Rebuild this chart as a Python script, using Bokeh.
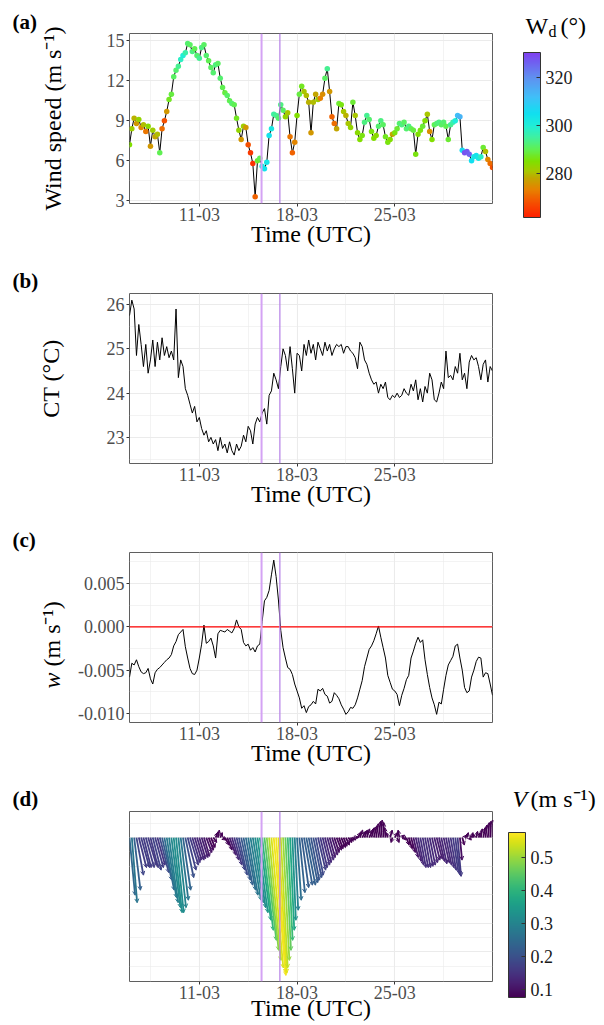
import numpy as np
import pandas as pd
from bokeh.plotting import figure
from bokeh.layouts import column, row
from bokeh.models import (ColumnDataSource, LinearColorMapper, ColorBar, FixedTicker,
                          DatetimeTickFormatter, Span, Label, Range1d, Arrow, OpenHead,
                          NumeralTickFormatter, Title)
from bokeh.transform import transform
from bokeh.palettes import Viridis256
from bokeh.embed import file_html
from bokeh.resources import INLINE

# ---------------- data ----------------
t_start = "2023-03-06 00:00"
t_end = "2023-04-01 00:00"
times = pd.date_range(t_start, t_end, freq="4h")   # 157 samples, 4-hourly

x_major = ["2023-03-11", "2023-03-18", "2023-03-25"]
x_minor = ["2023-03-07 12:00", "2023-03-14 12:00", "2023-03-21 12:00", "2023-03-28 12:00"]
event_lines = ["2023-03-15 11:00", "2023-03-16 18:30"]

# (a) wind speed (m/s)
wind_speed = [
    7.2, 8.4, 9.2, 8.8, 9.1, 8.5,
    8.7, 8.2, 8.6, 7.1, 8.3, 7.8,
    8.0, 6.6, 8.4, 9.0, 9.7, 10.6,
    11.0, 12.3, 12.8, 13.1, 13.6, 13.9,
    14.1, 14.8, 14.7, 14.2, 14.4, 13.9,
    13.7, 14.5, 14.7, 13.9, 13.5, 13.0,
    12.6, 13.2, 13.3, 12.2, 11.5, 11.1,
    10.9, 10.5, 10.3, 10.2, 9.2, 8.3,
    7.6, 8.6, 8.5, 7.2, 6.6, 5.8,
    3.3, 6.0, 6.2, 5.6, 5.4, 5.9,
    7.9, 8.4, 9.5, 9.4, 9.2, 10.2,
    9.8, 9.3, 9.6, 7.8, 6.6, 7.4,
    9.4, 11.0, 11.6, 11.2, 10.9, 10.4,
    8.1, 10.4, 11.0, 10.6, 10.7, 11.0,
    12.2, 12.9, 11.2, 9.3, 8.8, 8.4,
    10.3, 10.2, 9.7, 9.4, 8.8, 8.5,
    10.4, 9.4, 8.1, 7.6, 7.9, 8.9,
    9.4, 9.1, 8.2, 7.7, 7.9, 8.6,
    9.0, 8.7, 7.8, 7.4, 7.6, 8.0,
    8.1, 8.4, 8.8, 8.7, 8.9, 8.4,
    8.6, 8.4, 8.3, 6.5, 8.0, 8.3,
    8.6, 9.0, 9.5, 8.2, 7.6, 8.7,
    8.8, 8.9, 8.7, 8.9, 8.6, 7.6,
    8.7, 8.9, 9.0, 9.4, 9.3, 6.8,
    6.6, 6.7, 6.5, 6.0, 6.3, 6.4,
    6.2, 6.3, 7.0, 6.7, 6.1, 5.8,
    5.5]

# (a) wind direction (degrees)
wind_dir = [
    285, 282, 279, 276, 283, 274,
    280, 272, 284, 276, 282, 278,
    280, 290, 271, 268, 276, 287,
    289, 291, 292, 294, 298, 300,
    296, 292, 291, 293, 290, 292,
    294, 293, 291, 292, 290, 291,
    292, 293, 291, 292, 290, 289,
    291, 290, 292, 290, 287, 283,
    276, 282, 276, 268, 265, 264,
    270, 288, 290, 302, 304, 303,
    304, 302, 295, 294, 292, 293,
    291, 283, 281, 272, 270, 274,
    285, 289, 287, 281, 280, 279,
    276, 280, 278, 282, 273, 275,
    291, 294, 276, 270, 271, 278,
    288, 286, 281, 279, 281, 283,
    288, 281, 284, 285, 286, 293,
    294, 292, 286, 285, 284, 292,
    293, 291, 287, 286, 285, 278,
    286, 288, 292, 293, 291, 292,
    293, 290, 289, 286, 285, 286,
    288, 285, 281, 275, 285, 290,
    292, 293, 291, 292, 290, 288,
    294, 296, 300, 312, 314, 306,
    328, 327, 326, 305, 303, 304,
    302, 298, 288, 280, 274, 271,
    268]

# (b) conservative temperature (deg C)
ct = [
    25.75, 26.1, 25.9, 24.85, 25.55, 25.1,
    24.6, 25.1, 24.45, 24.75, 25.2, 24.6,
    25.15, 24.75, 25.25, 24.85, 25.05, 24.8,
    24.95, 24.75, 25.9, 24.35, 24.75, 24.6,
    24.1, 23.95, 23.75, 23.55, 23.7, 23.35,
    23.45, 23.2, 23.05, 23.15, 22.9, 23.0,
    22.85, 22.95, 22.7, 23.0, 22.75, 22.85,
    22.65, 22.9, 22.7, 22.6, 22.85, 22.7,
    22.8, 23.05, 22.9, 23.25, 23.15, 22.85,
    23.3, 23.45, 23.35, 23.55, 23.65, 23.3,
    23.95, 24.05, 24.45, 24.3, 24.1, 24.6,
    25.0, 24.85, 24.5, 25.05, 24.55, 24.0,
    24.9, 24.85, 24.5, 25.1, 24.85, 25.2,
    24.9, 25.1, 24.75, 25.15, 25.0, 24.85,
    25.15, 24.95, 25.1, 24.85, 25.0, 25.1,
    25.05, 25.1, 24.9, 25.05, 25.05, 24.95,
    24.9, 24.8, 24.55, 25.15, 25.05, 24.75,
    24.65, 24.45, 24.3, 24.2, 24.25, 24.0,
    24.2, 24.1, 24.25, 23.9, 23.85, 23.95,
    23.9, 24.0, 23.9, 23.95, 24.1, 24.0,
    23.95, 24.2, 24.05, 24.3, 23.85, 24.1,
    23.8, 24.15, 24.0, 24.45, 24.3, 23.85,
    23.8, 24.0, 24.25, 24.1, 24.95, 24.35,
    24.4, 24.3, 24.6, 24.45, 24.9, 24.3,
    24.45, 24.1, 24.7, 24.85, 24.75, 24.8,
    24.6, 24.3, 24.65, 24.75, 24.25, 24.6,
    24.5]

# (c) vertical velocity w (mm/s, converted to m/s below)
w_mm_s = [
    -5.8, -4.2, -4.4, -3.8, -4.6, -5.2,
    -5.4, -5.3, -4.8, -6.0, -6.6, -5.3,
    -4.9, -4.7, -4.4, -4.1, -3.8, -3.6,
    -3.2, -2.2, -1.7, -0.9, -0.6, -0.3,
    -2.3, -3.6, -4.8, -5.4, -5.5, -5.0,
    -3.6, -2.0, 0.2, -1.9, -1.7, -1.3,
    -2.2, -3.6, -0.8, -0.4, -0.5, -0.6,
    -0.3, -0.5, -0.7, -0.2, 0.8, 0.0,
    -0.3, -1.8, -2.2, -2.0, -2.7, -2.4,
    -2.9, -2.2, -2.0, 0.6, 3.0, 3.4,
    4.2, 6.0, 7.7, 5.8, 3.1, -0.4,
    -2.4, -3.6, -4.7, -4.9, -5.5, -6.6,
    -7.4, -8.2, -9.4, -9.1, -9.9, -9.2,
    -9.0, -8.6, -8.9, -7.2, -7.4, -7.1,
    -7.8, -8.0, -8.8, -8.6, -7.6, -7.9,
    -8.3, -9.0, -9.5, -10.1, -9.8, -9.3,
    -9.4, -9.0, -8.2, -7.2, -6.2, -4.6,
    -3.6, -2.6, -2.2, -1.6, -0.8, 0.1,
    -1.2, -2.4, -3.6, -5.6, -6.4, -7.2,
    -7.4, -7.8, -9.1, -7.9, -7.1, -6.1,
    -5.6, -3.6, -2.8, -1.9, -1.2, -1.8,
    -1.5, -3.8, -5.5, -7.0, -8.2, -9.0,
    -10.1, -8.7, -8.9, -7.2, -5.6, -4.4,
    -3.9, -3.4, -2.2, -2.0, -3.6, -5.0,
    -7.0, -7.6, -7.4, -5.8, -5.0, -4.0,
    -3.5, -3.6, -5.8, -5.3, -5.4, -6.6,
    -7.9]

# (d) current components (m/s)
u_cur = [
    0.08, 0.076, 0.09, 0.10, 0.11, 0.12,
    0.11, 0.12, 0.12, 0.11, 0.12, 0.12,
    0.11, 0.13, 0.14, 0.14, 0.14, 0.13,
    0.13, 0.12, 0.11, 0.11, 0.11, 0.11,
    0.12, 0.12, 0.12, 0.11, 0.10, 0.10,
    0.09, 0.09, 0.08, 0.08, 0.07, 0.06,
    0.05, 0.03, 0.02, 0.03, 0.05, 0.06,
    0.07, 0.09, 0.10, 0.11, 0.12, 0.12,
    0.13, 0.13, 0.14, 0.14, 0.15, 0.15,
    0.15, 0.15, 0.16, 0.16, 0.17, 0.17,
    0.17, 0.17, 0.17, 0.14, 0.12, 0.10,
    0.09, 0.08, 0.07, 0.06, 0.05, 0.05,
    0.06, 0.08, 0.10, 0.12, 0.13, 0.13,
    0.12, 0.12, 0.11, 0.11, 0.10, 0.10,
    0.09, 0.09, 0.08, 0.08, 0.07, 0.07,
    0.06, 0.06, 0.05, 0.05, 0.05, 0.04,
    0.04, 0.05, 0.05, 0.04, 0.05, 0.04,
    0.04, 0.05, 0.04, 0.04, 0.03, 0.03,
    0.02, 0.01, -0.01, -0.02, 0.03, -0.02,
    0.04, 0.03, -0.02, 0.04, 0.03, 0.04,
    0.05, 0.06, 0.07, 0.08, 0.08, 0.08,
    0.08, 0.08, 0.08, 0.08, 0.08, 0.08,
    0.08, 0.08, 0.08, 0.08, 0.08, 0.08,
    0.08, 0.08, 0.07, 0.05, 0.03, 0.03,
    0.03, 0.02, 0.03, 0.02, -0.01, 0.02,
    0.03, 0.02, 0.03, 0.02, 0.02, 0.01,
    0.0]
v_cur = [
    -0.23, -0.26, -0.21, -0.15, -0.12, -0.12,
    -0.12, -0.12, -0.11, -0.12, -0.13, -0.12,
    -0.11, -0.14, -0.17, -0.21, -0.24, -0.26,
    -0.28, -0.30, -0.30, -0.28, -0.25, -0.21,
    -0.16, -0.13, -0.11, -0.10, -0.09, -0.09,
    -0.085, -0.08, -0.075, -0.06, -0.05, -0.04,
    -0.02, 0.02, 0.03, 0.02, -0.01, -0.03,
    -0.05, -0.07, -0.09, -0.11, -0.13, -0.15,
    -0.17, -0.19, -0.21, -0.23, -0.25, -0.26,
    -0.28, -0.30, -0.33, -0.37, -0.41, -0.45,
    -0.49, -0.52, -0.54, -0.55, -0.54, -0.52,
    -0.49, -0.45, -0.41, -0.37, -0.33, -0.29,
    -0.25, -0.22, -0.20, -0.19, -0.19, -0.18,
    -0.17, -0.16, -0.15, -0.13, -0.12, -0.11,
    -0.10, -0.09, -0.08, -0.07, -0.06, -0.05,
    -0.045, -0.04, -0.035, -0.03, -0.02, -0.015,
    -0.01, 0.0, 0.02, 0.03, 0.025, 0.03,
    0.035, 0.03, 0.04, 0.045, 0.055, 0.065,
    0.07, 0.06, 0.04, 0.02, 0.03, -0.02,
    0.02, -0.02, 0.03, 0.01, -0.01, -0.03,
    -0.045, -0.06, -0.08, -0.095, -0.11, -0.12,
    -0.12, -0.12, -0.115, -0.11, -0.10, -0.09,
    -0.085, -0.095, -0.105, -0.10, -0.11, -0.12,
    -0.13, -0.14, -0.15, -0.155, -0.09, -0.03,
    0.01, 0.02, -0.01, 0.02, 0.015, 0.025,
    0.02, 0.035, 0.04, 0.05, 0.06, 0.065,
    0.07]

ws_ticks = [3, 6, 9, 12, 15]
ws_minor = [4.5, 7.5, 10.5, 13.5]
ct_ticks = [23, 24, 25, 26]
ct_minor = [22.5, 23.5, 24.5, 25.5]
w_ticks = [-0.010, -0.005, 0.0, 0.005]
w_minor = [-0.0075, -0.0025, 0.0025, 0.0075]
wd_ticks = [280, 300, 320]
wd_limits = (261.7, 330.4)
V_ticks = [0.1, 0.2, 0.3, 0.4, 0.5]
V_limits = (0.076, 0.576)
stick_days_per_ms = 5.0   # horizontal stick length: days per (m/s)

# ---------------- style / layout ----------------
FONT = "Liberation Serif"
TOTAL_W = 604
LW, RW = 72, 110
FRAME_H = 170
GRID = "#EBEBEB"


def ms(s):
    return pd.Timestamp(s).value / 1e6


def interp_palette(anchors, n=256):
    fr = np.array([a[0] for a in anchors])
    rgb = np.array([[int(c[1:3], 16), int(c[3:5], 16), int(c[5:7], 16)] for _, c in anchors], float)
    out = []
    for x in np.linspace(0, 1, n):
        r, g, b = (np.interp(x, fr, rgb[:, k]) for k in range(3))
        out.append("#%02x%02x%02x" % (int(round(r)), int(round(g)), int(round(b))))
    return out


rainbow = interp_palette([
    (0.00, "#ff2000"), (0.09, "#f55000"), (0.165, "#e88000"), (0.24, "#c0a800"),
    (0.28, "#a8c800"), (0.34, "#80e000"), (0.41, "#60f050"), (0.485, "#40f0a0"),
    (0.557, "#20eed8"), (0.63, "#10e0f0"), (0.73, "#40c0f8"), (0.85, "#6090f0"),
    (0.94, "#7060f0"), (1.00, "#8040f0")])

xticker = FixedTicker(ticks=[ms(s) for s in x_major], minor_ticks=[ms(s) for s in x_minor])


def make_fig(width, bottom, left, y_range, label_standoff=-3, top=0):
    p = figure(width=width, height=top + FRAME_H + bottom, x_axis_type="datetime",
               x_range=Range1d(ms(t_start), ms(t_end)), y_range=y_range,
               output_backend="svg", toolbar_location=None, title=None,
               min_border_left=left, min_border_right=2,
               min_border_top=top, min_border_bottom=bottom)
    p.background_fill_color = "white"
    p.border_fill_color = "white"
    p.outline_line_color = "#5f5f5f"
    p.outline_line_width = 1
    xa = p.xaxis[0]
    xa.ticker = xticker
    xa.formatter = DatetimeTickFormatter(days="%d-%m", months="%d-%m", hours="%d-%m",
                                         hourmin="%d-%m", strip_leading_zeros=False)
    xa.axis_label = "Time (UTC)"
    xa.axis_label_text_font = FONT
    xa.axis_label_text_font_size = "24px"
    xa.axis_label_text_font_style = "normal"
    xa.axis_label_text_color = "black"
    xa.axis_label_standoff = label_standoff
    xa.major_label_text_font = FONT
    xa.major_label_text_font_size = "18px"
    xa.major_label_text_color = "#4D4D4D"
    xa.major_label_standoff = 1
    xa.major_tick_out = 3
    xa.major_tick_in = 0
    xa.minor_tick_out = 0
    xa.minor_tick_in = 0
    xa.major_tick_line_color = "#333333"
    xa.axis_line_color = None
    g = p.xgrid[0]
    g.ticker = xticker
    g.grid_line_color = GRID
    g.grid_line_width = 1.1
    g.minor_grid_line_color = GRID
    g.minor_grid_line_width = 0.6
    return p


def style_y(p, ticks, minor, fmt=None, label=None, standoff=0):
    tk = FixedTicker(ticks=ticks, minor_ticks=minor)
    ya = p.yaxis[0]
    ya.ticker = tk
    if fmt is not None:
        ya.formatter = fmt
    if label is not None:
        ya.axis_label = label
        ya.axis_label_text_font = FONT
        ya.axis_label_text_font_size = "24px"
        ya.axis_label_text_font_style = "normal"
        ya.axis_label_text_color = "black"
        ya.axis_label_standoff = standoff
    ya.major_label_text_font = FONT
    ya.major_label_text_font_size = "18px"
    ya.major_label_text_color = "#4D4D4D"
    ya.major_label_standoff = 2
    ya.major_tick_out = 3
    ya.major_tick_in = 0
    ya.minor_tick_out = 0
    ya.minor_tick_in = 0
    ya.major_tick_line_color = "#333333"
    ya.axis_line_color = None
    g = p.ygrid[0]
    g.ticker = tk
    g.grid_line_color = GRID
    g.grid_line_width = 1.1
    g.minor_grid_line_color = GRID
    g.minor_grid_line_width = 0.6


def blank_fig(width, height, bottom=0, top=0):
    """Text-only canvas."""
    fh = height - bottom - top
    f = figure(width=width, height=height, x_range=Range1d(0, width), y_range=Range1d(0, fh),
               output_backend="svg", toolbar_location=None, title=None,
               min_border_left=0, min_border_right=0, min_border_top=top,
               min_border_bottom=bottom,
               x_axis_location=None, y_axis_location=None)
    f.outline_line_color = None
    f.grid.visible = False
    f.background_fill_color = "white"
    f.border_fill_color = "white"
    return f


def lab(f, text, x, y, size=24, style="normal", angle=0.0, align="left",
        baseline="alphabetic", color="black"):
    f.add_layout(Label(x=x, y=y, text=text, text_font=FONT, text_font_size=f"{size}px",
                       text_font_style=style, text_color=color, text_align=align,
                       text_baseline=baseline, angle=angle))


def events(p):
    p.add_layout(Span(location=ms(event_lines[0]), dimension="height",
                      line_color="#D4A3F4", line_width=2))
    p.add_layout(Span(location=ms(event_lines[1]), dimension="height",
                      line_color="#B57FE6", line_width=1.2))


def cbar(mapper, ticks, loc):
    return ColorBar(color_mapper=mapper, ticker=FixedTicker(ticks=ticks),
                    orientation="vertical",
                    width=17, height=165, location=loc, padding=0, margin=0,
                    label_standoff=5, major_label_text_font=FONT,
                    major_label_text_font_size="18px", major_label_text_color="#1A1A1A",
                    major_tick_line_color="#333333", major_tick_in=4, major_tick_out=0,
                    minor_tick_line_color=None, bar_line_color="#333333",
                    bar_line_width=1, border_line_color=None,
                    background_fill_color=None)


clear_mapper = LinearColorMapper(palette=["rgba(0, 0, 0, 0)"], low=0, high=1)


def legend_text(text, size, loc):
    """Invisible 20px colour-bar stub whose single tick label carries a legend-title piece."""
    return ColorBar(color_mapper=clear_mapper, ticker=FixedTicker(ticks=[0.5]),
                    major_label_overrides={0.5: text},
                    orientation="vertical", width=1, height=20, location=loc,
                    padding=0, margin=0, label_standoff=0,
                    major_label_text_font=FONT, major_label_text_font_size=f"{size}px",
                    major_label_text_color="black", major_label_text_font_style="normal",
                    major_tick_line_color=None, minor_tick_line_color=None,
                    major_tick_in=0, major_tick_out=0,
                    bar_line_color=None, border_line_color=None,
                    background_fill_color=None)


MAIN_W = TOTAL_W - RW          # main plot incl. its left border (frame starts at x=129)
T1 = 33
B1, B2, B3, B4 = 56, 55, 55, 44
S2, S3, S4 = 34, 34, 34        # text strips above panels b-d

# ---------------- (a) wind speed ----------------
src_a = ColumnDataSource(dict(t=times, ws=wind_speed, wd=wind_dir))
wd_mapper = LinearColorMapper(palette=rainbow, low=wd_limits[0], high=wd_limits[1])
pa = make_fig(MAIN_W, B1, 129, Range1d(2.80, 15.55), top=T1)
style_y(pa, ws_ticks, ws_minor, label="Wind speed (m s\u207b\u00b9)", standoff=38)
pa.line("t", "ws", source=src_a, line_color="black", line_width=1)
pa.scatter("t", "ws", source=src_a, size=5.5, line_color=None,
           fill_color=transform("wd", wd_mapper))
events(pa)
pa.add_layout(Title(text="(a)", align="left", offset=-117, vertical_align="bottom",
                    standoff=0, text_font=FONT, text_font_size="21px",
                    text_font_style="bold", text_color="black"), "above")
ra = blank_fig(RW, T1 + FRAME_H + B1, bottom=B1, top=T1)
ra.add_layout(cbar(wd_mapper, wd_ticks, (29, -14)))
ra.add_layout(legend_text("W", 24, (30, 168)))
ra.add_layout(legend_text("d", 16, (53, 162)))
ra.add_layout(legend_text("(\u00b0)", 24, (65, 168)))

# ---------------- (b) CT ----------------
pb = make_fig(MAIN_W, B2, 129, Range1d(22.41, 26.25))
style_y(pb, ct_ticks, ct_minor, label="CT (\u00b0C)", standoff=40)
pb.line(times, ct, line_color="black", line_width=1)
events(pb)
rb = blank_fig(RW, FRAME_H + B2, bottom=B2)
sb = blank_fig(TOTAL_W, S2)
lab(sb, "(b)", 12, 13, size=21, style="bold")

# ---------------- (c) w ----------------
w = np.array(w_mm_s) * 1e-3
pc = make_fig(MAIN_W - LW, B3, 57, Range1d(-0.01104, 0.00858))
style_y(pc, w_ticks, w_minor, NumeralTickFormatter(format="0.000"))
pc.line(times, w, line_color="black", line_width=1)
pc.add_layout(Span(location=0, dimension="width", line_color="#FF0000", line_width=1.3))
events(pc)
lc = blank_fig(LW, FRAME_H + B3, bottom=B3)
lab(lc, "w", 51, FRAME_H / 2 - 35, size=24, style="italic", angle=np.pi / 2,
    align="right", baseline="middle")
lab(lc, "(m s\u207b\u00b9)", 51, FRAME_H / 2 - 29, size=24, angle=np.pi / 2,
    align="left", baseline="middle")
rc = blank_fig(RW, FRAME_H + B3, bottom=B3)
sc = blank_fig(TOTAL_W, S3)
lab(sc, "(c)", 12, 13, size=21, style="bold")

# ---------------- (d) current sticks ----------------
u = np.array(u_cur)
v = np.array(v_cur)
speed = np.hypot(u, v)
t_ms = times.values.astype("datetime64[ms]").astype(float)
src_d = ColumnDataSource(dict(x0=t_ms, y0=np.zeros_like(v),
                              x1=t_ms + u * stick_days_per_ms * 86400000.0,
                              y1=v, V=speed))
V_mapper = LinearColorMapper(palette=Viridis256, low=V_limits[0], high=V_limits[1])
pdd = make_fig(MAIN_W, B4, 129, Range1d(-0.574, 0.104), label_standoff=-7)
pdd.yaxis.visible = False
step = 0.057
ytk = FixedTicker(ticks=[k * 2 * step for k in range(-4, 1)],
                  minor_ticks=[(2 * k + 1) * step for k in range(-5, 1)])
yg = pdd.ygrid[0]
yg.ticker = ytk
yg.grid_line_color = GRID
yg.grid_line_width = 1.1
yg.minor_grid_line_color = GRID
yg.minor_grid_line_width = 0.6
col_V = transform("V", V_mapper)
pdd.add_layout(Arrow(start=None,
                     end=OpenHead(size=4, line_color=col_V, line_width=1),
                     x_start="x0", y_start="y0", x_end="x1", y_end="y1",
                     line_color=col_V, line_width=1.8, source=src_d))
events(pdd)
rd = blank_fig(RW, FRAME_H + B4, bottom=B4)
rd.add_layout(cbar(V_mapper, V_ticks, (14, -16)))
sd = blank_fig(TOTAL_W, S4)
lab(sd, "(d)", 12, 13, size=21, style="bold")
lab(sd, "V", 512, 13, size=24, style="italic")
lab(sd, "(m s\u207b\u00b9)", 530, 13, size=24)

layout = column(row(pa, ra), sb, row(pb, rb), sc, row(lc, pc, rc), sd, row(pdd, rd))
open("out.html", "w").write(file_html(layout, INLINE))
